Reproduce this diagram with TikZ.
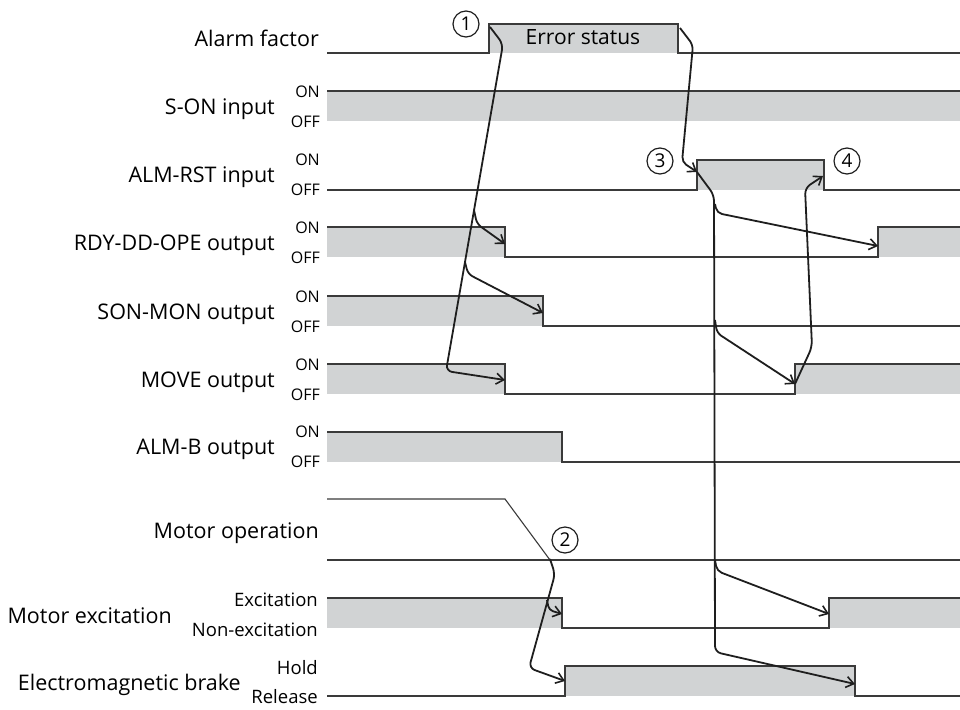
\documentclass[tikz,border=0pt]{standalone}
\usepackage{fontspec}
\setmainfont{Open Sans}
\usetikzlibrary{arrows.meta}
\definecolor{wavefill}{HTML}{D1D3D4}
\definecolor{waveline}{HTML}{3A3A3A}
\definecolor{arrline}{HTML}{1E1E1E}
\begin{document}
\begin{tikzpicture}[x=1pt,y=-1pt,
  wave/.style={draw=waveline,line width=1.5pt},
  thinwave/.style={draw=waveline,line width=1.1pt},
  hi/.style={fill=wavefill},
  arr/.style={draw=arrline,line width=1.8pt,rounded corners=6pt,-{Straight Barb[length=7.5pt,width=11pt,line width=1.6pt]}},
  lbl/.style={anchor=base east,inner sep=0pt,font=\fontsize{21.5}{24}\selectfont},
  st/.style={anchor=base east,inner sep=0pt,font=\fontsize{16}{18}\selectfont},
  stt/.style={anchor=base east,inner sep=0pt,font=\fontsize{18.5}{20}\selectfont},
  num/.style={circle,draw=arrline,line width=1.2pt,minimum size=26pt,inner sep=0pt,font=\fontsize{19}{21}\selectfont}]
\useasboundingbox (0,0) rectangle (960,709);

% ---------------- labels ----------------
\node[lbl] (lAlarm) at (319,46) {Alarm factor};
\node[lbl] (lSON) at (275,114) {S-ON input};
\node[lbl] (lRST) at (275,182) {ALM-RST input};
\node[lbl] (lRDY) at (275,250) {RDY-DD-OPE output};
\node[lbl] (lSMON) at (275,319) {SON-MON output};
\node[lbl] (lMOVE) at (275,387) {MOVE output};
\node[lbl] (lALMB) at (275,454) {ALM-B output};
\node[lbl] (lMop) at (319,538) {Motor operation};
\node[lbl] (lExc) at (172,623) {Motor excitation};
\node[lbl] (lBrk) at (241,690) {Electromagnetic brake};

\foreach \n/\yon/\yoff in {a/97/127, b/165/195, c/233/263, d/302/332, e/370/400, f/437/467}{
  \node[st] (on\n) at (320,\yon) {ON};
  \node[st] (off\n) at (320,\yoff) {OFF};
}
\node[stt] (sExc) at (318,606) {Excitation};
\node[stt] (sNexc) at (318,636) {Non-excitation};
\node[stt] (sHold) at (318,674) {Hold};
\node[stt] (sRel) at (318,703) {Release};

% ---------------- gray fills ----------------
\fill[hi] (489,24) rectangle (678,53);
\fill[hi] (327,91) rectangle (960,121);
\fill[hi] (697,160) rectangle (824,190);
\fill[hi] (327,227) rectangle (505,257);
\fill[hi] (878,227) rectangle (960,257);
\fill[hi] (327,296) rectangle (543,326);
\fill[hi] (327,364) rectangle (505,394);
\fill[hi] (795,364) rectangle (960,394);
\fill[hi] (327,432) rectangle (562,462);
\fill[hi] (327,598) rectangle (562,628);
\fill[hi] (829,598) rectangle (960,628);
\fill[hi] (565,666) rectangle (855,696);

% ---------------- waveforms ----------------
\draw[wave] (327,53) -- (489,53) -- (489,24) -- (678,24) -- (678,53) -- (960,53);
\draw[wave] (327,91) -- (960,91);
\draw[wave] (327,190) -- (697,190) -- (697,160) -- (824,160) -- (824,190) -- (960,190);
\draw[wave] (327,227) -- (505,227) -- (505,257) -- (878,257) -- (878,227) -- (960,227);
\draw[wave] (327,296) -- (543,296) -- (543,326) -- (960,326);
\draw[wave] (327,364) -- (505,364) -- (505,394) -- (795,394) -- (795,364) -- (960,364);
\draw[wave] (327,432) -- (562,432) -- (562,462) -- (960,462);
\draw[thinwave] (327,499) -- (505,499) -- (550,560);
\draw[thinwave] (327,560) -- (960,560);
\draw[wave] (327,598) -- (562,598) -- (562,628) -- (829,628) -- (829,598) -- (960,598);
\draw[wave] (327,696) -- (565,696) -- (565,666) -- (855,666) -- (855,696) -- (960,696);

\node (err) at (583,45) [anchor=base,inner sep=0pt,font=\fontsize{21}{24}\selectfont] {Error status};

% ---------------- named points ----------------
\coordinate (alarmRise) at (490,27);
\coordinate (alarmFall) at (680,28);
\coordinate (rdyFall) at (505,244);
\coordinate (smonFall) at (543,313);
\coordinate (moveFall) at (505,380);
\coordinate (rstRise) at (697,172);
\coordinate (rstFall) at (823,176);
\coordinate (rdyRise) at (878,246);
\coordinate (moveRise) at (795,384);
\coordinate (mopEnd) at (550,559);
\coordinate (excFall) at (562,614);
\coordinate (brkRise) at (565,681);
\coordinate (excRise) at (829,614);
\coordinate (brkFall) at (855,684);
\coordinate (b1) at (474,210);
\coordinate (b2) at (465,262);
\coordinate (b3) at (715,204);
\coordinate (b4) at (715,320);
\coordinate (b5) at (715,560);
\coordinate (b6) at (547,600);

% ---------------- arrows ----------------
% (1) alarm -> outputs
\draw[arr] (alarmRise) -- (503,44) -- (446,371) -- (moveFall);
\draw[arr,rounded corners=5pt] (b1) -- (477,224) -- (rdyFall);
\draw[arr,rounded corners=5pt] (b2) -- (468,274) -- (smonFall);
% alarm fall -> ALM-RST rise (3)
\draw[arr,rounded corners=5pt] (alarmFall) -- (693,45) -- (682,162) -- (rstRise);
% ALM-RST rise -> recovery
\draw[arr] (rstRise) -- (714,195) -- (715,652) -- (brkFall);
\draw[arr,rounded corners=5pt] (b3) -- (717,213) -- (rdyRise);
\draw[arr,rounded corners=5pt] (b4) -- (717,333) -- (moveRise);
\draw[arr,rounded corners=5pt] (b5) -- (717,571) -- (excRise);
% MOVE rise -> ALM-RST off (4)
\draw[arr] (moveRise) -- (812,347) -- (805,188) -- (rstFall);
% motor stop -> excitation / brake (2)
\draw[arr] (mopEnd) -- (555,574) -- (529,668) -- (brkRise);
\draw[arr,rounded corners=4pt] (b6) -- (549,610) -- (excFall);

% ---------------- circled numbers ----------------
\node[num] (n1) at (466,24) {1};
\node[num] (n2) at (565,540) {2};
\node[num] (n3) at (660,161) {3};
\node[num] (n4) at (847,161) {4};
\end{tikzpicture}
\end{document}
